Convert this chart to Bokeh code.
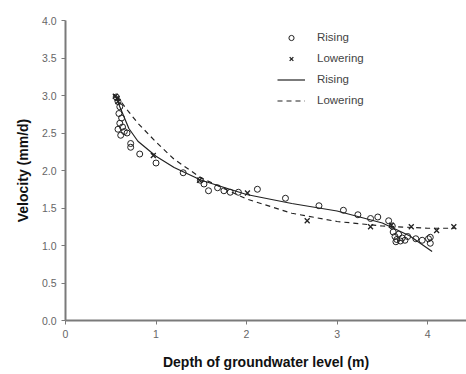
from bokeh.plotting import figure
from bokeh.embed import file_html
from bokeh.resources import INLINE
from bokeh.models import FixedTicker, Legend, LegendItem, Range1d, CustomJSTickFormatter

# Rising observations (depth m, velocity mm/d)
rising_x = [0.56, 0.58, 0.60, 0.59, 0.62, 0.60, 0.63, 0.58, 0.65, 0.61, 0.68, 0.72, 0.72, 0.82, 1.00,
            1.30, 1.49, 1.53, 1.58, 1.68, 1.75, 1.82, 1.91, 2.12, 2.43, 2.80, 3.07, 3.23, 3.37, 3.45,
            3.57, 3.61, 3.62, 3.64, 3.66, 3.68, 3.70, 3.72, 3.75, 3.78, 3.65, 3.87, 3.94, 4.01, 4.03, 4.03]
rising_y = [2.98, 2.92, 2.85, 2.76, 2.70, 2.63, 2.58, 2.55, 2.52, 2.47, 2.50, 2.36, 2.31, 2.22, 2.10,
            1.97, 1.87, 1.82, 1.73, 1.77, 1.73, 1.71, 1.71, 1.75, 1.63, 1.53, 1.47, 1.41, 1.36, 1.38,
            1.33, 1.26, 1.18, 1.12, 1.08, 1.15, 1.06, 1.10, 1.07, 1.12, 1.05, 1.09, 1.07, 1.09, 1.11, 1.03]

# Lowering observations
lowering_x = [0.55, 0.57, 0.58, 0.97, 1.48, 2.01, 2.67, 3.37, 3.60, 3.82, 4.10, 4.29]
lowering_y = [2.99, 2.96, 2.92, 2.20, 1.87, 1.70, 1.33, 1.25, 1.27, 1.25, 1.20, 1.25]

# Fitted curves
rising_fit_x = [0.56, 0.60, 0.70, 0.80, 1.00, 1.20, 1.50, 2.00, 2.50, 3.00, 3.50, 3.80, 4.05]
rising_fit_y = [2.98, 2.85, 2.56, 2.39, 2.19, 2.04, 1.87, 1.68, 1.56, 1.46, 1.30, 1.13, 0.92]

lowering_fit_x = [0.56, 0.70, 0.80, 1.00, 1.20, 1.50, 2.00, 2.50, 3.00, 3.50, 4.00, 4.30]
lowering_fit_y = [3.00, 2.78, 2.63, 2.38, 2.15, 1.90, 1.62, 1.43, 1.32, 1.26, 1.23, 1.23]

x_ticks = [0, 1, 2, 3, 4]
y_ticks = [0.0, 0.5, 1.0, 1.5, 2.0, 2.5, 3.0, 3.5, 4.0]

p = figure(width=466, height=374, output_backend="svg", toolbar_location=None,
           x_range=Range1d(0, 4.43), y_range=Range1d(0, 4.0),
           min_border_left=65, min_border_right=0, min_border_top=20, min_border_bottom=54)
p.outline_line_color = None
p.xgrid.visible = False
p.ygrid.visible = False
p.background_fill_color = "white"
p.border_fill_color = "white"

axis_color = "#7a7a7a"
for ax in (p.xaxis[0], p.yaxis[0]):
    ax.axis_line_color = axis_color
    ax.axis_line_width = 2
    ax.major_tick_line_color = axis_color
    ax.major_tick_out = 4
    ax.major_tick_in = 0
    ax.minor_tick_line_color = None
    ax.major_label_text_font = "Liberation Sans"
    ax.major_label_text_font_size = "10.5px"
    ax.major_label_text_color = "#666666"
    ax.axis_label_text_font = "Liberation Sans"
    ax.axis_label_text_font_style = "bold"
    ax.axis_label_text_font_size = "14px"
    ax.axis_label_text_color = "#111111"

p.xaxis[0].ticker = FixedTicker(ticks=x_ticks)
p.yaxis[0].ticker = FixedTicker(ticks=y_ticks)
p.yaxis[0].formatter = CustomJSTickFormatter(code="return tick.toFixed(1);")
p.xaxis[0].formatter = CustomJSTickFormatter(code="return tick.toFixed(0);")
p.xaxis[0].axis_label = "Depth of groundwater level (m)"
p.yaxis[0].axis_label = "Velocity (mm/d)"
p.xaxis[0].axis_label_standoff = 13
p.yaxis[0].axis_label_standoff = 8

r_fit = p.line(rising_fit_x, rising_fit_y, line_color="#222222", line_width=1.2)
l_fit = p.line(lowering_fit_x, lowering_fit_y, line_color="#222222", line_width=1.2, line_dash="5 4")
r_pts = p.scatter(rising_x, rising_y, marker="circle", size=6, fill_color=None,
                  line_color="#222222", line_width=1)
l_pts = p.scatter(lowering_x, lowering_y, marker="x", size=7, line_color="#222222", line_width=1.3)

legend = Legend(items=[
    LegendItem(label="Rising", renderers=[r_pts]),
    LegendItem(label="Lowering", renderers=[l_pts]),
    LegendItem(label="Rising", renderers=[r_fit]),
    LegendItem(label="Lowering", renderers=[l_fit]),
], location=(212, 210))
legend.border_line_color = None
legend.background_fill_alpha = 0
legend.padding = 0
legend.margin = 0
legend.spacing = 1
legend.glyph_width = 28
legend.glyph_height = 13
legend.label_height = 20
legend.label_standoff = 12
legend.label_text_font = "Liberation Sans"
legend.label_text_font_size = "11.5px"
legend.label_text_color = "#444444"
p.add_layout(legend)

open("out.html", "w").write(file_html(p, INLINE))
